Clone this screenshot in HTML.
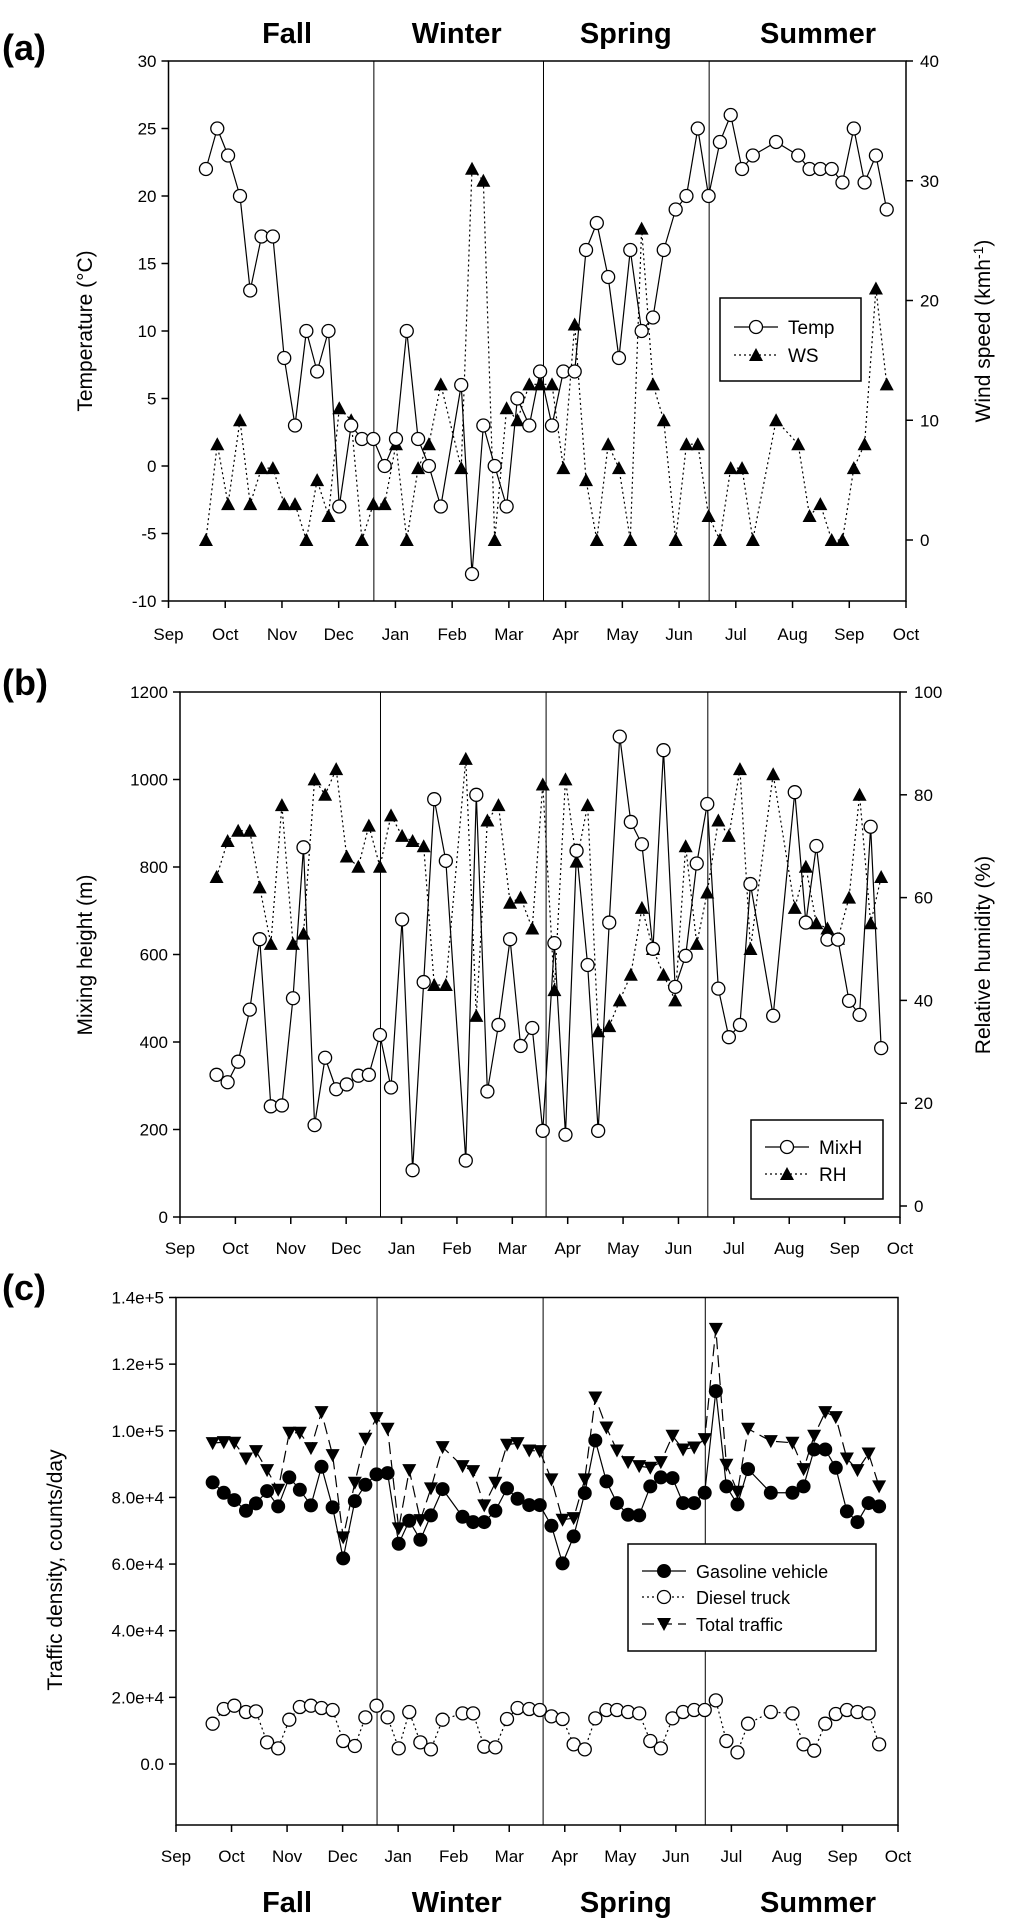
<!DOCTYPE html>
<html><head><meta charset="utf-8"><style>
html,body{margin:0;padding:0;background:#fff;}
svg{display:block;font-family:"Liberation Sans",Arial,sans-serif;}
</style></head><body>
<svg id="fig" width="1024" height="1932" viewBox="0 0 1024 1932" xmlns="http://www.w3.org/2000/svg"></svg>
<script>
const months = ["Sep","Oct","Nov","Dec","Jan","Feb","Mar","Apr","May","Jun","Jul","Aug","Sep","Oct"];
const seasons = ["Fall","Winter","Spring","Summer"];
const seasonCenters = [2.09, 5.08, 8.06, 11.45];
const seasonBreaks = [3.62, 6.61, 9.53];
const dates = [0.66,0.86,1.05,1.26,1.44,1.64,1.84,2.04,2.23,2.43,2.62,2.82,3.01,3.22,3.41,3.61,3.81,4.01,4.20,4.40,4.59,4.80,5.16,5.35,5.55,5.75,5.96,6.15,6.36,6.55,6.76,6.96,7.16,7.36,7.55,7.75,7.94,8.14,8.34,8.54,8.73,8.94,9.13,9.33,9.52,9.72,9.91,10.11,10.30,10.71,11.10,11.30,11.49,11.69,11.88,12.08,12.27,12.47,12.66];
const temp = [22,25,23,20,13,17,17,8,3,10,7,10,-3,3,2,2,0,2,10,2,0,-3,6,-8,3,0,-3,5,3,7,3,7,7,16,18,14,8,16,10,11,16,19,20,25,20,24,26,22,23,24,23,22,22,22,21,25,21,23,19];
const ws = [0,8,3,10,3,6,6,3,3,0,5,2,11,10,0,3,3,8,0,6,8,13,6,31,30,0,11,10,13,13,13,6,18,5,0,8,6,0,26,13,10,0,8,8,2,0,6,6,0,10,8,2,3,0,0,6,8,21,13];
const mixH = [325,308,355,474,635,253,255,500,845,210,364,292,303,323,325,416,296,680,107,537,955,814,129,965,287,439,635,391,432,197,626,188,837,576,197,673,1098,903,852,613,1067,526,597,808,944,522,411,439,761,460,971,673,848,634,634,494,462,892,386];
const rh = [64,71,73,73,62,51,78,51,53,83,80,85,68,66,74,66,76,72,71,70,43,43,87,37,75,78,59,60,54,82,42,83,67,78,34,35,40,45,58,50,45,40,70,51,61,75,72,85,50,84,58,66,55,54,52,60,80,55,64];
const gasoline = [84.5,81.4,79.2,76,78.2,81.9,77.3,86,82.3,77.6,89.2,77,61.7,78.9,83.8,86.9,87.3,66.1,73,67.3,74.6,82.5,74.2,72.6,72.6,76,82.7,79.6,77.7,77.7,71.5,60.2,68.3,81.3,97.1,84.8,78.3,74.8,74.6,83.3,86,85.8,78.3,78.3,81.4,111.9,83.3,77.9,88.5,81.4,81.4,83.3,94.4,94.4,88.9,75.8,72.6,78.3,77.3];
const diesel = [12.1,16.5,17.5,15.6,15.8,6.5,4.7,13.3,17.1,17.5,16.8,16.2,6.9,5.4,14,17.5,14,4.7,15.6,6.5,4.4,13.3,15.2,15.2,5.2,5,13.5,16.8,16.5,16.2,14.3,13.5,5.9,4.4,13.7,16.2,16.2,15.6,15.2,6.9,4.7,13.7,15.6,16.2,16.2,19.1,6.9,3.5,12.1,15.6,15.2,5.9,4,12.1,15,16.2,15.6,15.2,5.9];
const total = [96.3,96.6,96.4,91.7,93.9,88.2,82.3,99.4,99.4,94.8,105.6,92.7,68,84.4,97.6,103.8,100.6,70.7,88.2,73.2,82.7,95.1,89.4,87.9,77.6,84.4,95.8,96.3,94.1,93.9,85.4,73.3,73.8,85.4,110,101,94.1,90.6,89.4,88.9,90.6,98.5,94.4,95,97.5,130.6,89.8,81.7,100.6,96.9,96.4,88.5,98.5,105.6,104.1,91.7,88.2,93.2,83.3];
const tempTicks = [-10,-5,0,5,10,15,20,25,30];
const wsTicks = [0,10,20,30,40];
const mixTicks = [0,200,400,600,800,1000,1200];
const rhTicks = [0,20,40,60,80,100];
const trafficTicks = [0,20,40,60,80,100,120,140];
const trafficTickLabels = ["0.0","2.0e+4","4.0e+4","6.0e+4","8.0e+4","1.0e+5","1.2e+5","1.4e+5"];

const NS="http://www.w3.org/2000/svg";
const svg=document.getElementById('fig');
function mk(tag,attrs,parent,text){const e=document.createElementNS(NS,tag);for(const k in attrs)e.setAttribute(k,attrs[k]);if(text!==undefined)e.textContent=text;(parent||svg).appendChild(e);return e;}
function lin(d0,d1,r0,r1){return v=>r0+(v-d0)*(r1-r0)/(d1-d0);}
const NM = months.length-1;

function panel(cfg){
  const g=mk('g',{});
  
  
  const L=cfg.L,R=cfg.R,T=cfg.T,B=cfg.B;
  const x=lin(0,NM,L,R);
  const fr=mk('rect',{x:L,y:T,width:R-L,height:B-T,fill:'none',stroke:'#000','stroke-width':1.5},g);
  
  seasonBreaks.forEach(s=>{const l=mk('line',{x1:x(s),x2:x(s),y1:T,y2:B,stroke:'#000','stroke-width':1},g);
    });
  months.forEach((m,i)=>{mk('line',{x1:x(i),x2:x(i),y1:B,y2:B+7,stroke:'#000','stroke-width':1.5},g);
    const t=mk('text',{x:x(i),y:cfg.monthY,'font-size':17,'text-anchor':'middle'},g,m);
    });
  const label=mk('text',{x:2,y:cfg.labelY,'font-size':36,'font-weight':'bold'},g,cfg.label);
  
  return {g,x};
}
function axisLeft(g,L,y,ticks,labels){ticks.forEach((v,i)=>{mk('line',{x1:L-7,x2:L,y1:y(v),y2:y(v),stroke:'#000','stroke-width':1.5},g);
  const t=mk('text',{x:L-12,y:y(v)+6,'font-size':17,'text-anchor':'end'},g,labels?labels[i]:String(v));
  });}
function axisRight(g,R,y,ticks){ticks.forEach(v=>{mk('line',{x1:R,x2:R+7,y1:y(v),y2:y(v),stroke:'#000','stroke-width':1.5},g);
  const t=mk('text',{x:R+14,y:y(v)+6,'font-size':17},g,String(v));
  });}
function vTitle(g,xp,yp,txt,name){const t=mk('text',{x:xp,y:yp,'font-size':21,'text-anchor':'middle',transform:`rotate(-90 ${xp} ${yp})`},g);
  t.innerHTML=txt;}
function series(g,xs,ys,x,y,dash,marker,name){
  const pts=xs.map((d,i)=>[x(d),y(ys[i])]);
  const p=mk('polyline',{points:pts.map(p=>p.join(',')).join(' '),fill:'none',stroke:'#000','stroke-width':1.2},g);
  if(dash)p.setAttribute('stroke-dasharray',dash);
  
  pts.forEach(pt=>{const m=drawMarker(g,pt[0],pt[1],marker);});
}
function drawMarker(g,cx,cy,type){
  if(type==='oc')return mk('circle',{cx,cy,r:6.5,fill:'#fff',stroke:'#000','stroke-width':1.3},g);
  if(type==='fc')return mk('circle',{cx,cy,r:6.5,fill:'#000',stroke:'#000'},g);
  if(type==='tu')return mk('polygon',{points:`${cx},${cy-7} ${cx-7},${cy+6} ${cx+7},${cy+6}`,fill:'#000'},g);
  return mk('polygon',{points:`${cx},${cy+7} ${cx-7},${cy-6} ${cx+7},${cy-6}`,fill:'#000'},g);
}
function legend(g,x0,y0,w,h,items,fs){
  const lg=mk('g',{},g);
  mk('rect',{x:x0,y:y0,width:w,height:h,fill:'#fff',stroke:'#000','stroke-width':1.5},lg);
  items.forEach((it,i)=>{const yy=y0+it.dy;
    const l=mk('line',{x1:x0+14,x2:x0+58,y1:yy,y2:yy,stroke:'#000','stroke-width':1.2},lg);if(it.dash)l.setAttribute('stroke-dasharray',it.dash);
    drawMarker(lg,x0+36,yy,it.m);
    const t=mk('text',{x:x0+68,y:yy+7,'font-size':fs},lg,it.t);
    });
}
function seasonTitles(yp){const xs=lin(0,NM,168.5,906);
  seasons.forEach((s,i)=>{const t=mk('text',{x:xs(seasonCenters[i]),y:yp,'font-size':29,'font-weight':'bold','text-anchor':'middle'},svg,s);
  });}
seasonTitles(43);

{const P=panel({name:'panel-a-temperature-wind',L:168.5,R:906,T:61,B:601,monthY:640,label:'(a)',labelY:60});
 const yT=lin(-10,30,601,61), yW=lin(0,40,540,61);
 axisLeft(P.g,168.5,yT,tempTicks);axisRight(P.g,906,yW,wsTicks);
 vTitle(P.g,92,331,'Temperature (°C)','y-axis-title');
 vTitle(P.g,990,331,'Wind speed (kmh<tspan dy="-7" font-size="14">-1</tspan><tspan dy="7">)</tspan>','y2-axis-title');
 series(P.g,dates,ws,P.x,yW,'2,3','tu','ws');
 series(P.g,dates,temp,P.x,yT,null,'oc','temp');
 legend(P.g,720,298,141,83,[{t:'Temp',m:'oc',dy:29},{t:'WS',m:'tu',dy:57,dash:'2,3'}],19);
}
{const P=panel({name:'panel-b-mixing-humidity',L:180,R:900,T:692,B:1217,monthY:1254,label:'(b)',labelY:695});
 const yM=lin(0,1200,1217,692), yR=lin(0,100,1206,692);
 axisLeft(P.g,180,yM,mixTicks);axisRight(P.g,900,yR,rhTicks);
 vTitle(P.g,92,955,'Mixing height (m)','y-axis-title');
 vTitle(P.g,990,955,'Relative humidity (%)','y2-axis-title');
 series(P.g,dates,rh,P.x,yR,'2,3','tu','rh');
 series(P.g,dates,mixH,P.x,yM,null,'oc','mixh');
 legend(P.g,751,1120,132,79,[{t:'MixH',m:'oc',dy:27},{t:'RH',m:'tu',dy:54,dash:'2,3'}],19);
}
{const P=panel({name:'panel-c-traffic',L:176,R:898,T:1297.5,B:1825,monthY:1862,label:'(c)',labelY:1300});
 const yC=lin(0,140,1764,1297.5);
 axisLeft(P.g,176,yC,trafficTicks,trafficTickLabels);
 vTitle(P.g,62,1570,'Traffic density, counts/day','y-axis-title');
 series(P.g,dates,diesel,P.x,yC,'2,3','oc','diesel');
 series(P.g,dates,gasoline,P.x,yC,null,'fc','gasoline');
 series(P.g,dates,total,P.x,yC,'12,6','td','total');
 legend(P.g,628,1544,248,107,[{t:'Gasoline vehicle',m:'fc',dy:27},{t:'Diesel truck',m:'oc',dy:53,dash:'2,3'},{t:'Total traffic',m:'td',dy:80,dash:'12,6'}],18);
}
seasonTitles(1912);
</script>
</body></html>
